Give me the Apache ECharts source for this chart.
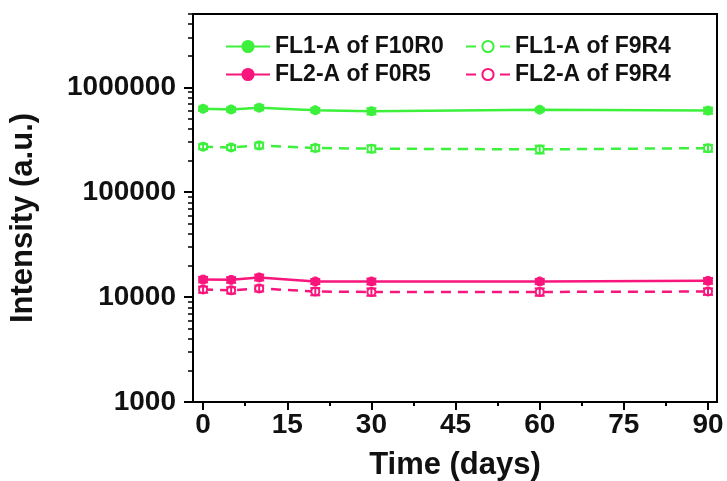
<!DOCTYPE html>
<html>
<head>
<meta charset="utf-8">
<script src="https://cdn.jsdelivr.net/npm/echarts@6/dist/echarts.min.js"></script>
<style>
  html, body { margin: 0; padding: 0; background: #fff; }
  #chart { width: 727px; height: 481px; }
</style>
</head>
<body>
<div id="chart"></div>
<script>
// data
const days = [0, 5, 10, 20, 30, 60, 90];

const fl1F10R0 = [625000, 615000, 640000, 605000, 592000, 612000, 600000];
const fl1F10R0Err = [30000, 30000, 35000, 30000, 40000, 25000, 40000];
const fl1F9R4 = [272000, 267000, 279000, 264000, 260000, 256000, 263000];
const fl1F9R4Err = [15000, 15000, 18000, 18000, 20000, 22000, 20000];
const fl2F0R5 = [14700, 14600, 15400, 14100, 14100, 14100, 14300];
const fl2F0R5Err = [900, 900, 1000, 800, 900, 800, 900];
const fl2F9R4 = [11800, 11600, 12100, 11300, 11200, 11200, 11300];
const fl2F9R4Err = [800, 800, 800, 900, 900, 900, 800];

const xMajorTicks = [0, 15, 30, 45, 60, 75, 90];
const xMinorTicks = [7.5, 22.5, 37.5, 52.5, 67.5, 82.5];
const yMajorTicks = [1000, 10000, 100000, 1000000];
const yMinorTicks = [
  2000, 3000, 4000, 5000, 6000, 7000, 8000, 9000,
  20000, 30000, 40000, 50000, 60000, 70000, 80000, 90000,
  200000, 300000, 400000, 500000, 600000, 700000, 800000, 900000,
  2000000, 3000000, 4000000, 5000000
];

const GREEN = '#3cf03c';
const PINK = '#f8157c';
const FONT = '"Liberation Sans", Arial, sans-serif';

const chart = echarts.init(document.getElementById('chart'));

const pairs = (ys) => days.map((d, i) => [d, ys[i]]);
const errPairs = (ys, es) => days.map((d, i) => [d, ys[i], es[i]]);

const lineSeries = (name, ys, color, dashed) => ({
  name,
  type: 'line',
  xAxisIndex: 0,
  yAxisIndex: 0,
  data: pairs(ys),
  symbol: dashed ? 'emptyCircle' : 'circle',
  symbolSize: dashed ? 8 : 9,
  showSymbol: true,
  itemStyle: { color: color, borderColor: color, borderWidth: dashed ? 1.5 : 1 },
  lineStyle: { color: color, width: 2.5, type: dashed ? [10, 7] : 'solid' },
  z: 3
});

// small error bars drawn through the axes
const errorSeries = (ys, es, color) => ({
  type: 'custom',
  xAxisIndex: 0,
  yAxisIndex: 0,
  data: errPairs(ys, es),
  encode: { x: 0, y: 1 },
  renderItem: (params, api) => {
    const x = api.value(0), y = api.value(1), e = api.value(2);
    const hi = api.coord([x, y + e]);
    const lo = api.coord([x, y - e]);
    const w = 5;
    const style = { stroke: color, lineWidth: 2 };
    return {
      type: 'group',
      children: [
        { type: 'line', shape: { x1: hi[0], y1: hi[1], x2: lo[0], y2: lo[1] }, style },
        { type: 'line', shape: { x1: hi[0] - w, y1: hi[1], x2: hi[0] + w, y2: hi[1] }, style },
        { type: 'line', shape: { x1: lo[0] - w, y1: lo[1], x2: lo[0] + w, y2: lo[1] }, style }
      ]
    };
  },
  z: 4
});

const legendBase = {
  orient: 'vertical',
  top: 30,
  itemWidth: 44,
  itemHeight: 14,
  itemGap: 5,
  textStyle: { fontFamily: FONT, fontWeight: 'bold', fontSize: 23, color: '#111' }
};

const option = {
  animation: false,
  backgroundColor: '#fff',
  grid: {
    left: 193, right: 10, top: 14, bottom: 79,
    outerBoundsMode: 'none',
    containLabel: false,
    show: true, borderColor: '#000', borderWidth: 2
  },
  legend: [
    Object.assign({}, legendBase, { left: 220, data: ['FL1-A of F10R0', 'FL2-A of F0R5'] }),
    Object.assign({}, legendBase, { left: 460, data: ['FL1-A of F9R4', 'FL2-A of F9R4'] })
  ],
  xAxis: [
    {
      type: 'value',
      min: -1.8,
      max: 91.6,
      name: 'Time (days)',
      nameLocation: 'middle',
      nameGap: 48,
      nameTextStyle: { fontFamily: FONT, fontWeight: 'bold', fontSize: 31, color: '#111' },
      axisLine: { show: true, onZero: false, lineStyle: { color: '#000', width: 2 } },
      axisTick: { show: true, inside: false, length: 8, customValues: xMajorTicks, lineStyle: { color: '#000', width: 2 } },
      axisLabel: { customValues: xMajorTicks, margin: 9, fontFamily: FONT, fontWeight: 'bold', fontSize: 28, color: '#111' },
      splitLine: { show: false }
    },
    {
      type: 'value',
      min: -1.8,
      max: 91.6,
      position: 'bottom',
      axisLine: { show: false, onZero: false },
      axisTick: { show: true, inside: false, length: 4, customValues: xMinorTicks, lineStyle: { color: '#000', width: 2 } },
      axisLabel: { show: false },
      splitLine: { show: false }
    }
  ],
  yAxis: [
    {
      type: 'log',
      logBase: 10,
      min: 1000,
      max: 5000000,
      name: 'Intensity (a.u.)',
      nameLocation: 'middle',
      nameGap: 154,
      nameRotate: 90,
      nameTextStyle: { fontFamily: FONT, fontWeight: 'bold', fontSize: 31, color: '#111', padding: [0, 20, 0, 0] },
      axisLine: { show: true, onZero: false, lineStyle: { color: '#000', width: 2 } },
      axisTick: { show: true, inside: false, length: 9, customValues: yMajorTicks, lineStyle: { color: '#000', width: 2 } },
      axisLabel: {
        customValues: yMajorTicks, margin: 17,
        formatter: (v) => String(Math.round(v)),
        fontFamily: FONT, fontWeight: 'bold', fontSize: 28, color: '#111'
      },
      splitLine: { show: false }
    },
    {
      type: 'log',
      logBase: 10,
      min: 1000,
      max: 5000000,
      position: 'left',
      offset: 0,
      axisLine: { show: false, onZero: false },
      axisTick: { show: true, inside: false, length: 5, customValues: yMinorTicks, lineStyle: { color: '#000', width: 1.5 } },
      axisLabel: { show: false },
      splitLine: { show: false }
    }
  ],
  series: [
    lineSeries('FL1-A of F10R0', fl1F10R0, GREEN, false),
    lineSeries('FL1-A of F9R4', fl1F9R4, GREEN, true),
    lineSeries('FL2-A of F0R5', fl2F0R5, PINK, false),
    lineSeries('FL2-A of F9R4', fl2F9R4, PINK, true),
    errorSeries(fl1F10R0, fl1F10R0Err, GREEN),
    errorSeries(fl1F9R4, fl1F9R4Err, GREEN),
    errorSeries(fl2F0R5, fl2F0R5Err, PINK),
    errorSeries(fl2F9R4, fl2F9R4Err, PINK)
  ]
};

chart.setOption(option);
</script>
</body>
</html>
